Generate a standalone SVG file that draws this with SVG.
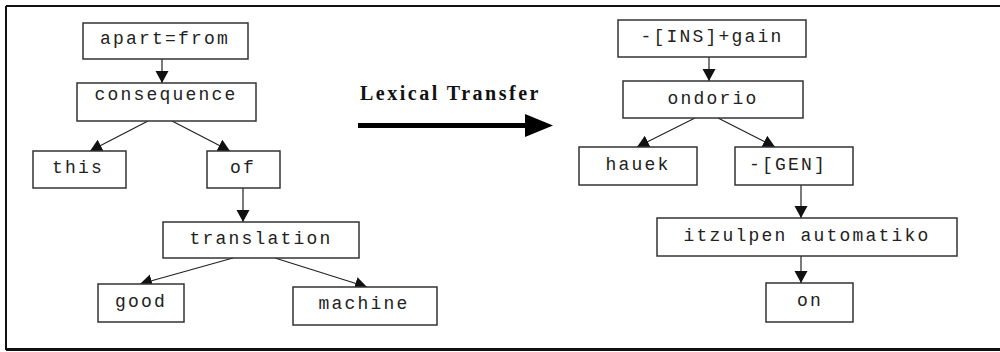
<svg xmlns="http://www.w3.org/2000/svg" width="1000" height="352" viewBox="0 0 1000 352">
<style>
.box{fill:#fff;stroke:#333;stroke-width:1.5}
.t{font-family:"Liberation Mono","Courier New",monospace;font-size:18px;letter-spacing:2.2px;fill:#222;text-anchor:middle}
.c{stroke:#222;stroke-width:1.2;fill:none;marker-end:url(#ah)}
.title{font-family:"Liberation Serif","Times New Roman",serif;font-size:20px;font-weight:bold;letter-spacing:2.5px;fill:#111}
</style>
<defs>
<marker id="ah" markerUnits="userSpaceOnUse" markerWidth="14" markerHeight="14" refX="12" refY="7" orient="auto" viewBox="0 0 14 14">
<path d="M0,0.5 L12,7 L0,13.5 z" fill="#111"/>
</marker>
</defs>
<rect width="1000" height="352" fill="#fff"/>
<g id="frame" stroke="#111" fill="none">
<line x1="6" y1="6" x2="1000" y2="6" stroke-width="2"/>
<line x1="6" y1="6" x2="6" y2="350" stroke-width="2"/>
<line x1="6" y1="349.5" x2="1000" y2="349.5" stroke-width="3"/>
</g>
<g id="connectors">
<line class="c" x1="162" y1="59" x2="162" y2="83"/>
<line class="c" x1="148" y1="121" x2="90" y2="151"/>
<line class="c" x1="172" y1="121" x2="230" y2="151"/>
<line class="c" x1="243" y1="188" x2="243" y2="222"/>
<line class="c" x1="233" y1="258" x2="140" y2="284"/>
<line class="c" x1="275" y1="258" x2="367" y2="287"/>
<line class="c" x1="709" y1="57" x2="709" y2="81"/>
<line class="c" x1="695" y1="118" x2="637" y2="147"/>
<line class="c" x1="718" y1="118" x2="775" y2="147"/>
<line class="c" x1="801" y1="185" x2="801" y2="218"/>
<line class="c" x1="801" y1="256" x2="801" y2="283"/>
</g>
<g id="transfer">
<text class="title" x="360" y="100">Lexical Transfer</text>
<line x1="358" y1="125.5" x2="528" y2="125.5" stroke="#000" stroke-width="5"/>
<polygon points="525,114 553,125.5 525,137" fill="#000"/>
</g>
<g id="n-apartfrom"><rect class="box" x="83" y="23" width="165" height="36"/><text class="t" x="165" y="44">apart=from</text></g>
<g id="n-consequence"><rect class="box" x="77" y="83" width="179" height="38"/><text class="t" x="166" y="100">consequence</text></g>
<g id="n-this"><rect class="box" x="33" y="151" width="93" height="37"/><text class="t" x="78" y="173">this</text></g>
<g id="n-of"><rect class="box" x="207" y="151" width="73" height="37"/><text class="t" x="243" y="173">of</text></g>
<g id="n-translation"><rect class="box" x="163" y="222" width="196" height="36"/><text class="t" x="261" y="244">translation</text></g>
<g id="n-good"><rect class="box" x="98" y="284" width="86" height="38"/><text class="t" x="141" y="307">good</text></g>
<g id="n-machine"><rect class="box" x="293" y="287" width="144" height="38"/><text class="t" x="364" y="309">machine</text></g>
<g id="n-insgain"><rect class="box" x="618" y="20" width="188" height="37"/><text class="t" x="712" y="42">-[INS]+gain</text></g>
<g id="n-ondorio"><rect class="box" x="623" y="81" width="180" height="37"/><text class="t" x="713" y="104">ondorio</text></g>
<g id="n-hauek"><rect class="box" x="579" y="147" width="118" height="38"/><text class="t" x="638" y="170">hauek</text></g>
<g id="n-gen"><rect class="box" x="735" y="147" width="118" height="38"/><text class="t" x="788" y="170">-[GEN]</text></g>
<g id="n-itzulpen"><rect class="box" x="657" y="218" width="300" height="38"/><text class="t" x="807" y="241">itzulpen automatiko</text></g>
<g id="n-on"><rect class="box" x="766" y="283" width="87" height="39"/><text class="t" x="810" y="306">on</text></g>
</svg>
